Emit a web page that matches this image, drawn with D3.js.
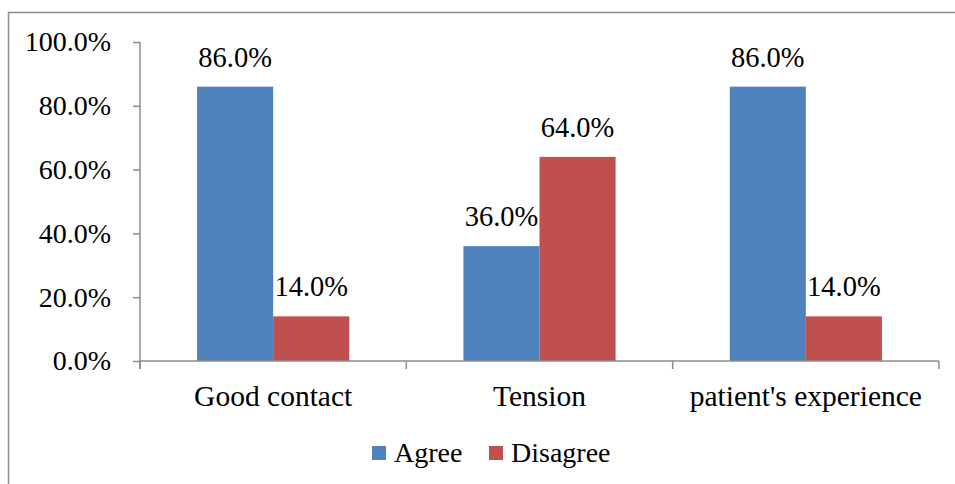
<!DOCTYPE html>
<html>
<head>
<meta charset="utf-8">
<script src="https://cdn.jsdelivr.net/npm/d3@7"></script>
<style>
  html, body { margin: 0; padding: 0; background: #fff; }
  svg { display: block; }
  svg text { font-family: "Liberation Serif", "Times New Roman", "DejaVu Serif", serif !important; fill: #000; }
</style>
</head>
<body>
<svg id="chart" width="955" height="484"></svg>
<script>
// Survey responses per statement (percent)
const categories = ["Good contact", "Tension", "patient's experience"];
const seriesNames = ["Agree", "Disagree"];
const agree = [86.0, 36.0, 86.0];
const disagree = [14.0, 64.0, 14.0];
const yTicks = [0, 20, 40, 60, 80, 100];
const colors = ["#4F81BD", "#C0504D"];

const svg = d3.select("#chart");
const W = 955, H = 484;
const plot = { left: 140, right: 939, top: 42, bottom: 361 };
const fontSize = 28;
const axisColor = "#8c8c8c";

// Outer chart frame (right and bottom edges fall outside the view)
svg.append("rect")
  .attr("x", 8.5).attr("y", 12.5)
  .attr("width", W + 20).attr("height", H + 20)
  .attr("fill", "none").attr("stroke", axisColor).attr("stroke-width", 1.5);

const x0 = d3.scaleBand().domain(categories).range([plot.left, plot.right]).paddingInner(0).paddingOuter(0);
const x1 = d3.scaleBand().domain(seriesNames).range([0, x0.bandwidth()]).paddingInner(0).paddingOuter(0.75);
const y = d3.scaleLinear().domain([0, 100]).range([plot.bottom, plot.top]);

const rows = categories.map((c, i) => ({ cat: c, vals: [agree[i], disagree[i]] }));

// Bars
const groups = svg.append("g").selectAll("g").data(rows).join("g")
  .attr("transform", d => `translate(${x0(d.cat)},0)`);

groups.selectAll("rect").data(d => d.vals.map((v, k) => ({ v, k })))
  .join("rect")
  .attr("x", d => x1(seriesNames[d.k]))
  .attr("y", d => y(d.v))
  .attr("width", x1.bandwidth())
  .attr("height", d => y(0) - y(d.v))
  .attr("fill", d => colors[d.k]);

// Value labels
groups.selectAll("text").data(d => d.vals.map((v, k) => ({ v, k })))
  .join("text")
  .attr("x", d => x1(seriesNames[d.k]) + x1.bandwidth() / 2)
  .attr("y", d => y(d.v) - 20)
  .attr("text-anchor", "middle")
  .attr("font-size", 28.5)
  .text(d => d.v.toFixed(1) + "%");

// Y axis
const yAxis = d3.axisLeft(y).tickValues(yTicks).tickSize(7).tickPadding(22)
  .tickFormat(d => d.toFixed(1) + "%");
const gy = svg.append("g").attr("transform", `translate(${plot.left},0)`).call(yAxis);
gy.attr("font-family", null);
gy.select(".domain").remove();
gy.append("line").attr("x1", 0).attr("x2", 0).attr("y1", plot.top).attr("y2", plot.bottom + 8)
  .attr("stroke", axisColor).attr("stroke-width", 1.5);
gy.selectAll(".tick line").attr("stroke", axisColor).attr("stroke-width", 1.5);
gy.selectAll(".tick text").attr("font-size", fontSize).attr("fill", "#000");

// X axis with boundary ticks between categories
const gx = svg.append("g");
gx.append("line").attr("x1", plot.left).attr("x2", plot.right).attr("y1", plot.bottom).attr("y2", plot.bottom)
  .attr("stroke", axisColor).attr("stroke-width", 1.5);
const bounds = categories.map(c => x0(c)).concat([x0(categories[categories.length - 1]) + x0.bandwidth()]);
gx.selectAll("line.bt").data(bounds).join("line").attr("class", "bt")
  .attr("x1", d => d).attr("x2", d => d)
  .attr("y1", plot.bottom).attr("y2", plot.bottom + 8)
  .attr("stroke", axisColor).attr("stroke-width", 1.5);
gx.selectAll("text").data(categories).join("text")
  .attr("x", d => x0(d) + x0.bandwidth() / 2)
  .attr("y", plot.bottom + 45)
  .attr("text-anchor", "middle")
  .attr("font-size", 29.5)
  .text(d => d);

// Legend
const legendItems = [
  { name: seriesNames[0], color: colors[0], x: 372 },
  { name: seriesNames[1], color: colors[1], x: 489 }
];
const lg = svg.append("g").selectAll("g").data(legendItems).join("g")
  .attr("transform", d => `translate(${d.x},446)`);
lg.append("rect").attr("width", 14).attr("height", 14).attr("fill", d => d.color);
lg.append("text").attr("x", 22).attr("y", 16).attr("font-size", fontSize).text(d => d.name);
</script>
</body>
</html>
